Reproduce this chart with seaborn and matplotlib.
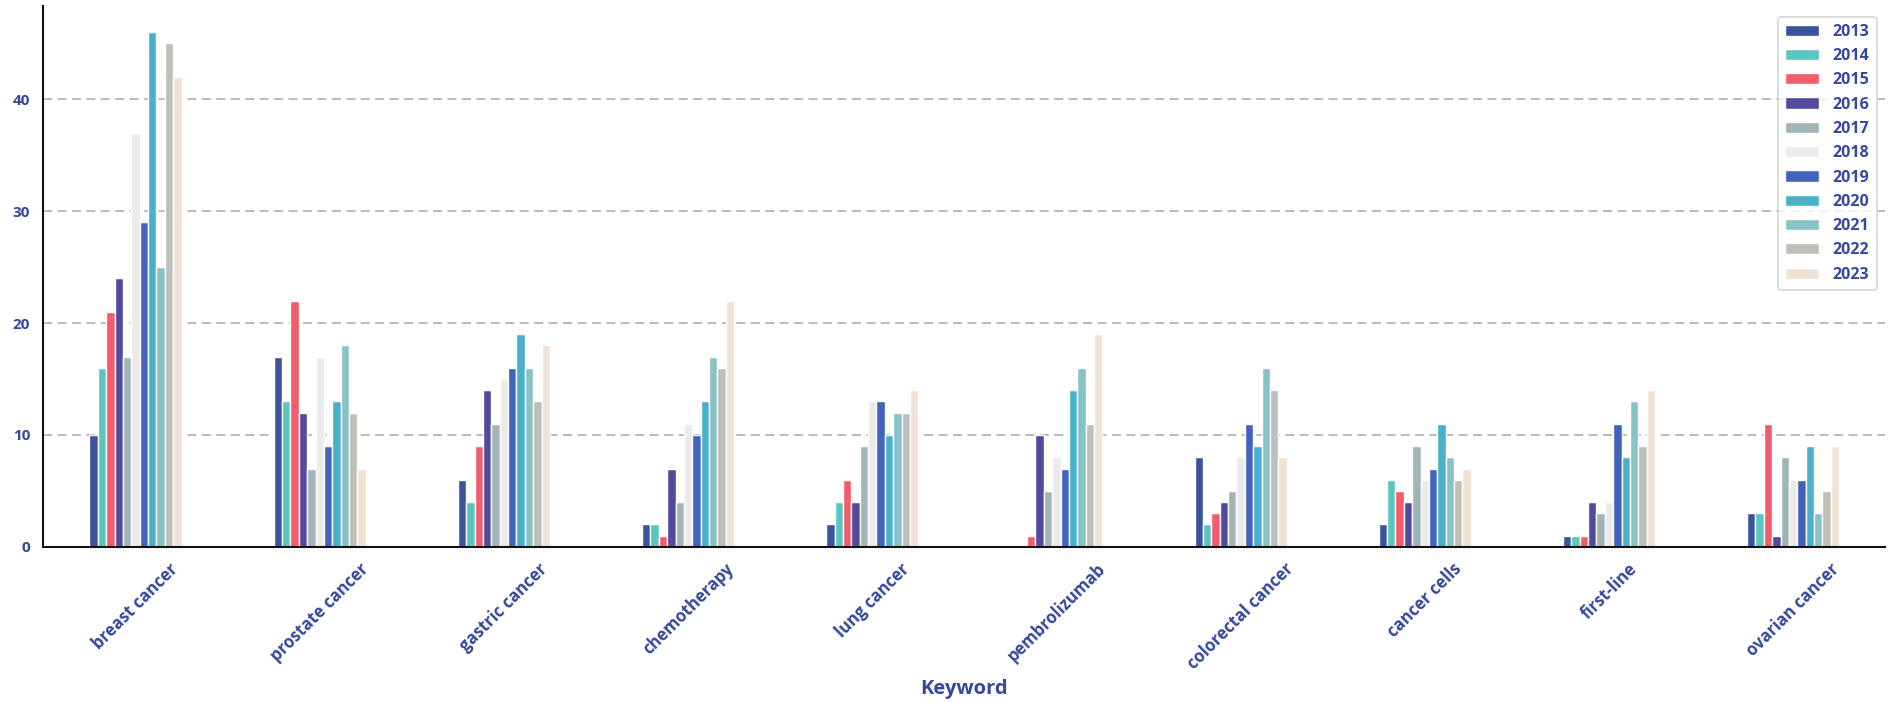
import matplotlib
matplotlib.use("Agg")
import matplotlib.pyplot as plt
import seaborn as sns
import pandas as pd

# Keyword counts per year
keywords = ["breast cancer", "prostate cancer", "gastric cancer", "chemotherapy",
            "lung cancer", "pembrolizumab", "colorectal cancer", "cancer cells",
            "first-line", "ovarian cancer"]
years = ["2013", "2014", "2015", "2016", "2017", "2018",
         "2019", "2020", "2021", "2022", "2023"]

breast_cancer = [10, 16, 21, 24, 17, 37, 29, 46, 25, 45, 42]
prostate_cancer = [17, 13, 22, 12, 7, 17, 9, 13, 18, 12, 7]
gastric_cancer = [6, 4, 9, 14, 11, 15, 16, 19, 16, 13, 18]
chemotherapy = [2, 2, 1, 7, 4, 11, 10, 13, 17, 16, 22]
lung_cancer = [2, 4, 6, 4, 9, 13, 13, 10, 12, 12, 14]
pembrolizumab = [0, 0, 1, 10, 5, 8, 7, 14, 16, 11, 19]
colorectal_cancer = [8, 2, 3, 4, 5, 8, 11, 9, 16, 14, 8]
cancer_cells = [2, 6, 5, 4, 9, 6, 7, 11, 8, 6, 7]
first_line = [1, 1, 1, 4, 3, 4, 11, 8, 13, 9, 14]
ovarian_cancer = [3, 3, 11, 1, 8, 6, 6, 9, 3, 5, 9]

series = [breast_cancer, prostate_cancer, gastric_cancer, chemotherapy, lung_cancer,
          pembrolizumab, colorectal_cancer, cancer_cells, first_line, ovarian_cancer]

colors = ["#3A539B", "#5BC5C2", "#F25C6B", "#524A9C", "#A0B5B7", "#EBEBEB",
          "#4263BC", "#48B0C9", "#88C1C6", "#BCC0B8", "#F2E2D3"]

rows = []
for kw, vals in zip(keywords, series):
    for yr, v in zip(years, vals):
        rows.append({"Keyword": kw, "Year": yr, "Count": v})
df = pd.DataFrame(rows)

sns.set_style("white")
plt.rcParams["font.family"] = ["Open Sans", "DejaVu Sans"]
text_color = "#34499A"
tick_color = "#4A66B0"

fig = plt.figure(figsize=(18.89, 7.02), dpi=100)
ax = fig.add_axes([0.023, 0.221, 0.975, 0.770])

sns.barplot(data=df, x="Keyword", y="Count", hue="Year", order=keywords,
            hue_order=years, palette=colors, width=0.5, saturation=1,
            ax=ax, errorbar=None)

ax.set_axisbelow(True)
ax.yaxis.grid(True, linestyle=(0, (5, 3)), color="#B4B4B4", linewidth=1.3)
ax.set_yticks([0, 10, 20, 30, 40])
gl = ax.get_ygridlines()
gl[0].set_visible(False)

for s in ["top", "right"]:
    ax.spines[s].set_visible(False)
for s in ["left", "bottom"]:
    ax.spines[s].set_color("#111111")
    ax.spines[s].set_linewidth(1.5)

ax.tick_params(axis="both", colors=tick_color, length=6, width=1.5,
               labelcolor=text_color, labelsize=11)
ax.tick_params(axis="x", labelsize=12)
for lbl in ax.get_xticklabels():
    lbl.set_rotation(45)
    lbl.set_fontweight("bold")
for lbl in ax.get_yticklabels():
    lbl.set_fontweight("bold")

ax.set_ylabel("")
ax.set_xlabel("Keyword", fontsize=14.5, fontweight="bold", color=text_color, labelpad=4)

handles, labels = ax.get_legend_handles_labels()
leg = ax.legend(handles, labels, loc="upper right", bbox_to_anchor=(0.997, 0.987),
                frameon=True, fancybox=True, edgecolor="#CCCCCC",
                prop={"weight": "bold", "size": 11.5}, labelcolor=text_color,
                handlelength=2.1, handleheight=0.7, labelspacing=0.52,
                borderpad=0.45, handletextpad=0.85, borderaxespad=0.2)
leg.get_frame().set_linewidth(1.2)

fig.savefig("out.png", dpi=100)
